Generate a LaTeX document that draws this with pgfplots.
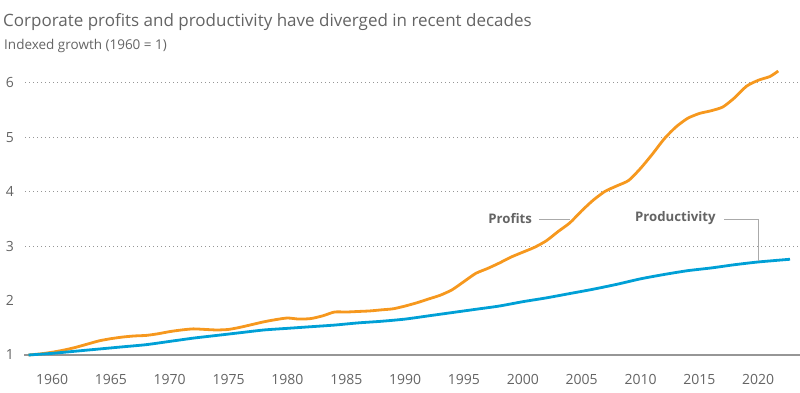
\documentclass[border=0pt]{standalone}
\usepackage{pgfplots}
\pgfplotsset{compat=1.18}
\usepackage{fontspec}
\setmainfont{Open Sans}
\definecolor{orangeline}{RGB}{246,152,30}
\definecolor{blueline}{RGB}{0,160,214}
\definecolor{txtgray}{RGB}{100,100,100}
\definecolor{leadgray}{RGB}{170,170,170}
\definecolor{basegray}{RGB}{150,150,150}
\begin{document}
\begin{tikzpicture}
\useasboundingbox (0pt,0pt) rectangle (800pt,393pt);
% axis baseline and dotted grid lines drawn as fills (frame elements, not data)
\fill[basegray] (24pt,37.4pt) rectangle (800pt,38.6pt);
\foreach \k in {2,3,4,5} {
  \foreach \x in {25,29,...,797} {
    \fill[basegray] (\x pt,37.5pt+\k*54.4pt) rectangle (\x pt+1.1pt,38.6pt+\k*54.4pt);
  }
}
\node[anchor=base west, inner sep=0pt, text=txtgray, font=\fontsize{17}{19}\selectfont] at (3pt,366pt) {Corporate profits and productivity have diverged in recent decades};
\node[anchor=base west, inner sep=0pt, text=txtgray, font=\fontsize{13.5}{15}\selectfont] at (4pt,343pt) {Indexed growth (1960 = 1)};
\begin{axis}[
  at={(24pt,38pt)}, anchor=south west,
  scale only axis, width=776pt, height=299.2pt,
  xmin=1957.62, xmax=2023.55, ymin=1, ymax=6.5,
  axis lines=none,
  xtick=\empty, ytick=\empty,
  clip=false,
]
\addplot[orangeline, line width=2.8pt, smooth, tension=0.4] table {
x y
1958 1.00
1959 1.02
1960 1.05
1961 1.09
1962 1.14
1963 1.20
1964 1.26
1965 1.30
1966 1.33
1967 1.35
1968 1.36
1969 1.39
1970 1.43
1971 1.46
1972 1.48
1973 1.47
1974 1.46
1975 1.47
1976 1.51
1977 1.56
1978 1.61
1979 1.65
1980 1.68
1981 1.66
1982 1.67
1983 1.72
1984 1.79
1985 1.79
1986 1.80
1987 1.81
1988 1.83
1989 1.85
1990 1.90
1991 1.96
1992 2.03
1993 2.10
1994 2.20
1995 2.35
1996 2.50
1997 2.59
1998 2.69
1999 2.80
2000 2.89
2001 2.98
2002 3.10
2003 3.27
2004 3.43
2005 3.65
2006 3.85
2007 4.01
2008 4.11
2009 4.21
2010 4.43
2011 4.69
2012 4.97
2013 5.19
2014 5.35
2015 5.44
2016 5.49
2017 5.56
2018 5.73
2019 5.94
2020 6.05
2021 6.12
2021.7 6.22
};
\addplot[blueline, line width=2.8pt, smooth, tension=0.4] table {
x y
1958 1.00
1960 1.03
1962 1.07
1964 1.11
1966 1.15
1968 1.19
1970 1.25
1972 1.31
1974 1.36
1976 1.41
1978 1.46
1980 1.49
1982 1.52
1984 1.55
1986 1.59
1988 1.62
1990 1.66
1992 1.72
1994 1.78
1996 1.84
1998 1.90
2000 1.98
2002 2.05
2004 2.13
2006 2.21
2008 2.30
2010 2.40
2012 2.48
2014 2.55
2016 2.60
2018 2.66
2020 2.71
2022.7 2.76
};
\foreach \v in {1,...,6} {
  \edef\tmp{\noexpand\node[anchor=east, inner sep=0pt, text=txtgray, font=\noexpand\fontsize{14}{16}\noexpand\selectfont] at (axis cs:1957.62,\v) [xshift=-10pt] {\v};}
  \tmp
}
\foreach \v in {1960,1965,...,2020} {
  \edef\tmp{\noexpand\node[anchor=center, inner sep=0pt, text=txtgray, font=\noexpand\fontsize{14}{16}\noexpand\selectfont] at (axis cs:\v,1) [yshift=-24pt] {\v};}
  \tmp
}
\draw[leadgray, line width=0.8pt] (axis cs:2001.4,3.49) -- (axis cs:2004.0,3.49);
\draw[leadgray, line width=0.8pt] (axis cs:2017.1,3.49) -- (axis cs:2019.98,3.49) -- (axis cs:2019.98,2.72);
\node[anchor=east, inner sep=0pt, text=txtgray, font=\bfseries\fontsize{13.2}{15}\selectfont] at (axis cs:2000.8,3.51) {Profits};
\node[anchor=east, inner sep=0pt, text=txtgray, font=\bfseries\fontsize{13.2}{15}\selectfont] at (axis cs:2016.4,3.51) {Productivity};
\end{axis}
\end{tikzpicture}
\end{document}
